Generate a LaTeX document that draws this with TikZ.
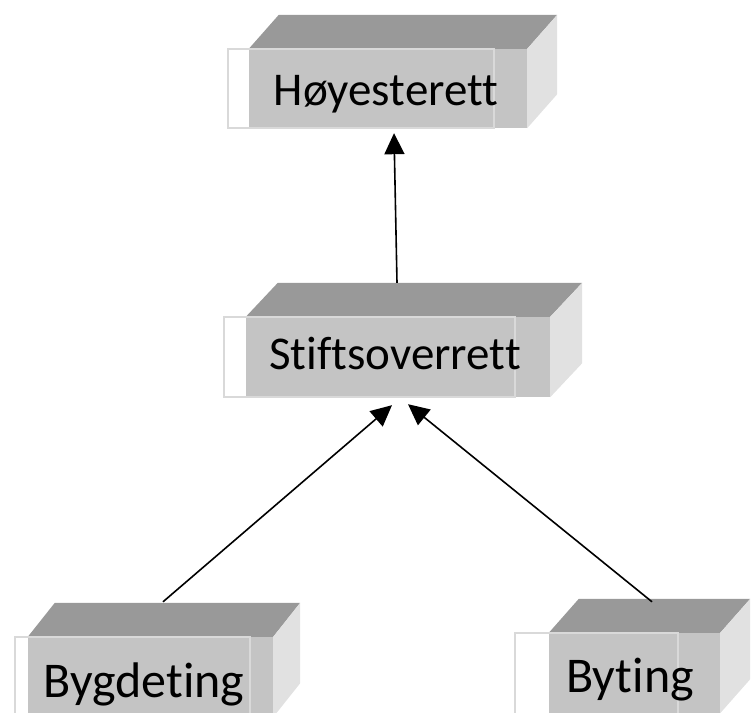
\documentclass[tikz,border=0pt]{standalone}
\usepackage{fontspec}
\setmainfont{Carlito}[Ligatures=NoCommon]
\usetikzlibrary{arrows.meta}

\definecolor{topgray}{HTML}{999999}
\definecolor{frontgray}{HTML}{C4C4C4}
\definecolor{sidegray}{HTML}{E1E1E1}

% top and right face of a block, #1 = node, #2 = depth
\newcommand{\blockfaces}[2]{%
  \fill[topgray] (#1.north west) -- ++(#2,-34) -- ([shift={(#2,-34)}]#1.north east) -- (#1.north east) -- cycle;
  \fill[sidegray] (#1.north east) -- ++(#2,-34) -- ([shift={(#2,-34)}]#1.south east) -- (#1.south east) -- cycle;
}

\begin{document}
\begin{tikzpicture}[x=1pt, y=-1pt,
    front/.style={fill=frontgray, inner sep=0pt},
    label/.style={inner sep=0pt, text depth=0pt},
    upper/.style={label, font=\fontsize{47}{50}\selectfont, text height=31pt},
    lower/.style={label, font=\fontsize{50}{53}\selectfont, text height=34pt},
    rim/.style={draw=gray!30, line width=1.5pt},
    link/.style={line width=1.6pt, -{Triangle[width=20pt, length=21pt]}}]
        \useasboundingbox (0,0) rectangle (751,712);
        \clip (0,0) rectangle (751,712);

        % block fronts
        \node[front, minimum width=278pt, minimum height=79pt] (hoy) at (388, 88.5) {};
        \node[front, minimum width=304pt, minimum height=80pt] (stift) at (398, 357) {};
        \node[front, minimum width=245pt, minimum height=80pt] (bygde) at (150.5, 677) {};
        \node[front, minimum width=171pt, minimum height=80pt] (by) at (634.5, 673) {};

        \blockfaces{hoy}{30}
        \blockfaces{stift}{32}
        \blockfaces{bygde}{27}
        \blockfaces{by}{30}

        \draw[rim] (228, 49) rectangle (494, 128);
        \draw[rim] (224, 317) rectangle (515, 397);
        \draw[rim] (15, 637) rectangle (250, 720);
        \draw[rim] (515, 633) rectangle (678, 720);

        % names
        \node[upper] (hoy-t) at (386, 90) {Høyesterett};
        \node[upper] (stift-t) at (395, 354) {Stiftsoverrett};
        \node[lower] (bygde-t) at (144, 680) {Bygdeting};
        \node[lower] (by-t) at (630, 675) {Byting};

        \draw[link] ([shift={(-1,-34)}]stift.north) -- ([shift={(6,5)}]hoy.south);
        \draw[link] ([shift={(12.5,-35)}]bygde.north) -- ([shift={(-6,8)}]stift.south);
        \draw[link] ([shift={(17.5,-31)}]by.north) -- ([shift={(10,7)}]stift.south);
    \end{tikzpicture}
\end{document}
